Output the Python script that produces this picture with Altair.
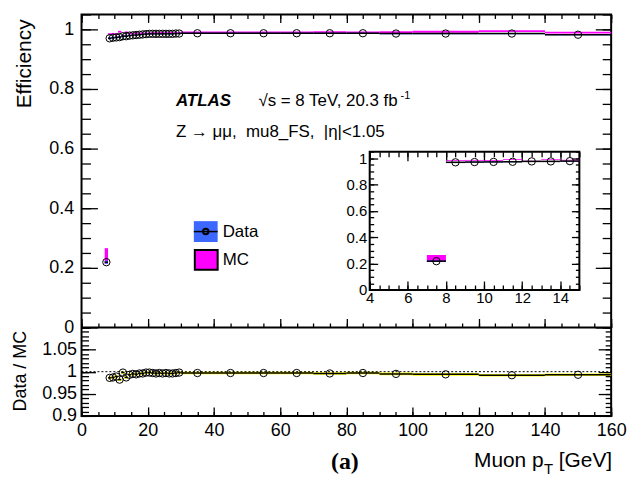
import altair as alt
import pandas as pd

# ---------------- data ----------------
bin_lo = [7, 8, 9, 10, 11, 12, 13, 14, 15, 16, 17, 18, 19, 20, 21, 22, 23, 24, 25, 26, 27, 28, 29,
          30, 40, 50, 60, 70, 80, 90, 100, 120, 140]
bin_hi = [8, 9, 10, 11, 12, 13, 14, 15, 16, 17, 18, 19, 20, 21, 22, 23, 24, 25, 26, 27, 28, 29, 30,
          40, 50, 60, 70, 80, 90, 100, 120, 140, 160]
data_eff = [0.219, 0.970, 0.972, 0.973, 0.974, 0.977, 0.977, 0.979, 0.980, 0.981, 0.982, 0.983,
            0.984, 0.985, 0.985, 0.985, 0.985, 0.985, 0.985, 0.985, 0.985, 0.986, 0.986,
            0.987, 0.987, 0.987, 0.987, 0.987, 0.987, 0.986, 0.986, 0.986, 0.982]
data_err = [0.005, 0.003, 0.003, 0.003, 0.003, 0.003, 0.003, 0.002, 0.002, 0.002, 0.002, 0.002,
            0.002, 0.002, 0.002, 0.002, 0.002, 0.002, 0.002, 0.002, 0.002, 0.002, 0.002,
            0.002, 0.002, 0.002, 0.002, 0.002, 0.002, 0.002, 0.002, 0.002, 0.002]
mc_eff = [0.240, 0.984, 0.985, 0.984, 0.992, 0.979, 0.990, 0.986, 0.985, 0.987, 0.986, 0.987,
          0.986, 0.987, 0.988, 0.989, 0.988, 0.989, 0.988, 0.989, 0.989, 0.989, 0.988,
          0.990, 0.990, 0.990, 0.990, 0.991, 0.990, 0.991, 0.992, 0.994, 0.989]
mc_err = [0.026, 0.003, 0.003, 0.003, 0.003, 0.003, 0.003, 0.003, 0.003, 0.003, 0.003, 0.003,
          0.003, 0.003, 0.003, 0.003, 0.003, 0.003, 0.003, 0.003, 0.003, 0.003, 0.003,
          0.003, 0.003, 0.003, 0.003, 0.003, 0.003, 0.003, 0.003, 0.003, 0.003]
ratio = [None, 0.986, 0.987, 0.989, 0.982, 0.998, 0.987, 0.993, 0.995, 0.994, 0.996, 0.996,
         0.998, 0.998, 0.997, 0.996, 0.997, 0.996, 0.997, 0.996, 0.996, 0.997, 0.998,
         0.997, 0.997, 0.997, 0.997, 0.996, 0.997, 0.995, 0.994, 0.992, 0.993]
ratio_err = [0.0, 0.003, 0.003, 0.003, 0.003, 0.003, 0.003, 0.003, 0.003, 0.003, 0.003, 0.003,
             0.003, 0.003, 0.003, 0.003, 0.003, 0.003, 0.003, 0.003, 0.003, 0.003, 0.003,
             0.003, 0.003, 0.003, 0.003, 0.003, 0.003, 0.003, 0.003, 0.003, 0.003]

x_major = [0, 20, 40, 60, 80, 100, 120, 140, 160]
x_minor = [v * 5 for v in range(33)]
eff_major = [0, 0.2, 0.4, 0.6, 0.8, 1.0]
eff_minor = [round(v * 0.05, 3) for v in range(22)]
rat_major = [0.9, 0.95, 1.0, 1.05]
rat_minor = [round(0.9 + v * 0.01, 3) for v in range(21)]
in_x_major = [4, 6, 8, 10, 12, 14]
in_x_minor = [4 + v * 0.5 for v in range(23)]
ratio_ref = [1.0]
divider = [0.0]
inset_box = {"x0": [4], "x1": [15], "y0": [0.0], "y1": [1.05]}

BLUE = "#3d68ff"
MAGENTA = "#ff00ff"
YELLOW = "#ffff00"
FONT = "Liberation Sans"
NB = "\u00a0"

df = pd.DataFrame({
    "lo": bin_lo, "hi": bin_hi, "data": data_eff, "derr": data_err,
    "mc": mc_eff, "mcerr": mc_err, "ratio": ratio, "rerr": ratio_err,
})
df["mid"] = (df["lo"] + df["hi"]) / 2
df["d_lo"] = df["data"] - df["derr"]
df["d_hi"] = df["data"] + df["derr"]
df["m_lo"] = df["mc"] - df["mcerr"]
df["m_hi"] = df["mc"] + df["mcerr"]
df["r_lo"] = df["ratio"] - df["rerr"]
df["r_hi"] = df["ratio"] + df["rerr"]

# ---------------- geometry ----------------
W, H, HM = 533, 404, 315
IN_L, IN_R, IN_B, IN_T = 290, 501, 277.3, 138.2

X_MAIN = alt.Scale(domain=[0, 160], range=[0, W], nice=False, zero=False)
Y_MAIN = alt.Scale(domain=[0, 1.05], range=[HM, 0], nice=False, zero=False)
Y_RAT = alt.Scale(domain=[0.9, 1.1], range=[H, HM], nice=False, zero=False)
X_IN = alt.Scale(domain=[4, 15], range=[IN_L, IN_R], nice=False, zero=False)
Y_IN = alt.Scale(domain=[0, 1.05], range=[IN_B, IN_T], nice=False, zero=False)

base = alt.Chart(df)
ratio_base = base.transform_filter("isValid(datum.ratio)")
inset_base = base.transform_filter("datum.hi <= 15")


def ax(orient, offset, size, values, labels=False, pad=4, fs=18, fmt="d"):
    kw = dict(orient=orient, offset=offset, tickSize=size, values=values, labels=labels,
              domain=False, grid=False, title=None, ticks=True, tickColor="black", tickWidth=1.3)
    if labels:
        kw.update(format=fmt, labelPadding=pad, labelFontSize=fs, labelFont=FONT,
                  labelColor="black", labelOverlap=False, labelFlush=False)
    return alt.Axis(**kw)


def carrier(src, xs, ys, xfield, yfield, xaxis, yaxis):
    return src.mark_point(opacity=0).encode(
        x=alt.X(xfield, type="quantitative", scale=xs, axis=xaxis),
        y=alt.Y(yfield, type="quantitative", scale=ys, axis=yaxis),
    )


def eff_layers(src, xs, ys, size):
    mc = src.mark_rect(color=MAGENTA).encode(
        x=alt.X("lo:Q", scale=xs, axis=None), x2="hi:Q",
        y=alt.Y("m_lo:Q", scale=ys, axis=None), y2="m_hi:Q")
    dat = src.mark_rect(color=BLUE).encode(
        x=alt.X("lo:Q", scale=xs, axis=None), x2="hi:Q",
        y=alt.Y("d_lo:Q", scale=ys, axis=None), y2="d_hi:Q")
    line = src.mark_rule(color="black", strokeWidth=1.5).encode(
        x=alt.X("lo:Q", scale=xs, axis=None), x2="hi:Q",
        y=alt.Y("data:Q", scale=ys, axis=None))
    pts = src.mark_point(shape="circle", filled=False, size=size, color="black",
                         opacity=1, strokeWidth=1).encode(
        x=alt.X("mid:Q", scale=xs, axis=None),
        y=alt.Y("data:Q", scale=ys, axis=None))
    return [mc, dat, line, pts]


layers = []
layers += eff_layers(base, X_MAIN, Y_MAIN, 55)

# ratio panel
layers.append(ratio_base.mark_rect(color=YELLOW).encode(
    x=alt.X("lo:Q", scale=X_MAIN, axis=None), x2="hi:Q",
    y=alt.Y("r_lo:Q", scale=Y_RAT, axis=None), y2="r_hi:Q"))
layers.append(alt.Chart(pd.DataFrame({"v": ratio_ref})).mark_rule(
    color="black", strokeWidth=1, strokeDash=[2, 2]).encode(
    y=alt.Y("v:Q", scale=Y_RAT, axis=None), x=alt.value(0), x2=alt.value(W)))
layers.append(ratio_base.mark_rule(color="black", strokeWidth=1.5).encode(
    x=alt.X("lo:Q", scale=X_MAIN, axis=None), x2="hi:Q",
    y=alt.Y("ratio:Q", scale=Y_RAT, axis=None)))
layers.append(ratio_base.mark_point(shape="circle", filled=False, size=55, color="black",
                                    opacity=1, strokeWidth=1).encode(
    x=alt.X("mid:Q", scale=X_MAIN, axis=None),
    y=alt.Y("ratio:Q", scale=Y_RAT, axis=None)))
layers.append(alt.Chart(pd.DataFrame({"v": divider})).mark_rule(
    color="black", strokeWidth=2).encode(
    y=alt.Y("v:Q", scale=Y_MAIN, axis=None), x=alt.value(0), x2=alt.value(W)))

# inset
layers.append(alt.Chart(pd.DataFrame(inset_box)).mark_rect(
    fillOpacity=0, stroke="black", strokeWidth=2).encode(
    x=alt.X("x0:Q", scale=X_IN, axis=None), x2="x1:Q",
    y=alt.Y("y0:Q", scale=Y_IN, axis=None), y2="y1:Q"))
layers += eff_layers(inset_base, X_IN, Y_IN, 55)

# texts
one = pd.DataFrame({"k": [0]})


def txt(s, x, y, size=17, align="left", baseline="alphabetic", font=FONT, **kw):
    return alt.Chart(one).mark_text(text=s, align=align, baseline=baseline, fontSize=size,
                                    font=font, color="black", **kw).encode(
        x=alt.value(x), y=alt.value(y))


layers.append(txt("ATLAS", 95, 92, 17, fontStyle="italic", fontWeight="bold"))
layers.append(txt("\u221as = 8 TeV, 20.3 fb", 178, 92, 17))
layers.append(txt("-1", 321, 85, 11))
layers.append(txt("Z \u2192 \u03bc\u03bc," + NB + NB + "mu8_FS," + NB + NB + "|\u03b7|<1.05",
                  95, 123, 17))
layers.append(txt("Efficiency", -57, 5, 21, align="right", baseline="middle", angle=270))
layers.append(txt("Data / MC", -61, 359, 18, align="center", baseline="middle", angle=270))
layers.append(txt("Muon p", 465, 455, 21, align="right"))
layers.append(txt("T", 465.5, 462, 15))
layers.append(txt("[GeV]", 534, 455, 21, align="right"))
layers.append(txt("(a)", 265, 457, 24, align="center", font="Liberation Serif", fontWeight="bold"))

# legend
layers.append(alt.Chart(one).mark_rect(color=BLUE).encode(
    x=alt.value(113), x2=alt.value(137), y=alt.value(208), y2=alt.value(229)))
layers.append(alt.Chart(one).mark_rule(color="black", strokeWidth=1.5).encode(
    x=alt.value(113), x2=alt.value(137), y=alt.value(218.5)))
layers.append(alt.Chart(one).mark_point(shape="circle", filled=False, size=30, color="black",
                                        opacity=1).encode(x=alt.value(125), y=alt.value(218.5)))
layers.append(alt.Chart(one).mark_rect(fill=MAGENTA, stroke="black", strokeWidth=2).encode(
    x=alt.value(114), x2=alt.value(137), y=alt.value(237), y2=alt.value(257)))
layers.append(txt("Data", 142, 218.5, 17, baseline="middle"))
layers.append(txt("MC", 142, 247, 17, baseline="middle"))

# axes carriers (inward ticks on every side)
layers.append(carrier(base, X_MAIN, Y_MAIN, "mid", "data",
                      ax("top", -HM, 9, x_major),
                      ax("left", -16, 16, eff_major, True, 8, fmt=".1~f")))
layers.append(carrier(base, X_MAIN, Y_MAIN, "mid", "data",
                      ax("top", -HM, 4.5, x_minor), ax("left", -9, 9, eff_minor)))
layers.append(carrier(base, X_MAIN, Y_MAIN, "mid", "data",
                      ax("bottom", -H, 8, x_major), ax("right", -16, 16, eff_major)))
layers.append(carrier(base, X_MAIN, Y_MAIN, "mid", "data",
                      ax("bottom", -H, 4, x_minor), ax("right", -9, 9, eff_minor)))
layers.append(carrier(ratio_base, X_MAIN, Y_RAT, "mid", "ratio",
                      ax("bottom", -9, 9, x_major, True, 6, fmt="d"),
                      ax("left", -14, 14, rat_major, True, 5, fmt=".2~f")))
layers.append(carrier(ratio_base, X_MAIN, Y_RAT, "mid", "ratio",
                      ax("bottom", -4.5, 4.5, x_minor), ax("left", -7, 7, rat_minor)))
layers.append(carrier(ratio_base, X_MAIN, Y_RAT, "mid", "ratio",
                      None, ax("right", -13, 13, rat_major)))
layers.append(carrier(ratio_base, X_MAIN, Y_RAT, "mid", "ratio",
                      None, ax("right", -6, 6, rat_minor)))
layers.append(carrier(inset_base, X_IN, Y_IN, "mid", "data",
                      ax("bottom", IN_B - 9 - H, 9, in_x_major, True, 1, 15, fmt="d"),
                      ax("left", -(IN_L + 8), 8, eff_major, True, 3, 15, fmt=".1~f")))
layers.append(carrier(inset_base, X_IN, Y_IN, "mid", "data",
                      ax("bottom", IN_B - 5 - H, 5, in_x_minor),
                      ax("left", -(IN_L + 4), 4, eff_minor)))
layers.append(carrier(inset_base, X_IN, Y_IN, "mid", "data",
                      ax("bottom", IN_T - H, 9, in_x_major),
                      ax("right", (IN_R - 8) - W, 8, eff_major)))
layers.append(carrier(inset_base, X_IN, Y_IN, "mid", "data",
                      ax("bottom", IN_T - H, 5, in_x_minor),
                      ax("right", (IN_R - 4) - W, 4, eff_minor)))

chart = alt.layer(*layers).resolve_scale(x="independent", y="independent").properties(
    width=W, height=H,
    autosize=alt.AutoSizeParams(type="none"),
    padding={"left": 74, "top": 5, "right": 25, "bottom": 62},
    background="white",
).configure_view(stroke="black", strokeWidth=2)

chart.save("out.html", embed_options={"renderer": "svg", "actions": False})
